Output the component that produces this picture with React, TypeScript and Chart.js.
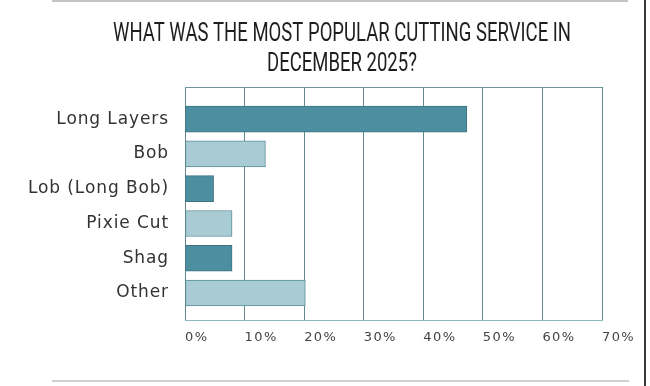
import React, { useEffect, useRef } from "react";
import { Chart, registerables } from "chart.js";

Chart.register(...registerables);

const titleLines = ["WHAT WAS THE MOST POPULAR CUTTING SERVICE IN", "DECEMBER 2025?"];
const categories = ["Long Layers", "Bob", "Lob (Long Bob)", "Pixie Cut", "Shag", "Other"];
const values = [47.3, 13.5, 4.8, 7.9, 7.9, 20.2];
const xTicks = [0, 10, 20, 30, 40, 50, 60, 70];

const DARK = "#4d8fa0";
const LIGHT = "#a9cbd3";
const DARK_BORDER = "#3b7383";
const LIGHT_BORDER = "#5a8e99";

const decorPlugin = {
  id: "decor",
  beforeDraw(chart: any) {
    (chart.ctx as any).letterSpacing = "0.9px";
  },
  beforeDatasetsDraw(chart: any) {
    const { ctx, chartArea } = chart;
    ctx.save();
    ctx.strokeStyle = "#6f9499";
    ctx.lineWidth = 1;
    ctx.beginPath();
    ctx.moveTo(chartArea.left, chartArea.top + 0.5);
    ctx.lineTo(chartArea.right, chartArea.top + 0.5);
    ctx.stroke();
    ctx.restore();
  },
  afterDatasetsDraw(chart: any) {
    (chart.ctx as any).letterSpacing = "1.4px";
  },
  afterDraw(chart: any) {
    const ctx = chart.ctx as any;
    ctx.letterSpacing = "0px";
    ctx.save();
    // page rules
    ctx.strokeStyle = "#c4c4c4";
    ctx.lineWidth = 2;
    ctx.beginPath();
    ctx.moveTo(52, 1);
    ctx.lineTo(628, 1);
    ctx.stroke();
    ctx.strokeStyle = "#d0d0d0";
    ctx.beginPath();
    ctx.moveTo(52, 381);
    ctx.lineTo(629, 381);
    ctx.stroke();
    ctx.strokeStyle = "#3a3a3a";
    ctx.beginPath();
    ctx.moveTo(645, 0);
    ctx.lineTo(645, 386);
    ctx.stroke();
    // title (horizontally condensed)
    ctx.fillStyle = "#1e1e1e";
    ctx.font = '25px Roboto, "Liberation Sans", sans-serif';
    ctx.textAlign = "center";
    ctx.textBaseline = "alphabetic";
    const w0 = ctx.measureText(titleLines[0]).width;
    const sx = 458 / w0;
    ctx.translate(342, 0);
    ctx.scale(sx, 1);
    ctx.fillText(titleLines[0], 0, 41);
    ctx.fillText(titleLines[1], 0, 70.5);
    ctx.restore();
  },
};

export default function App() {
  const ref = useRef<HTMLCanvasElement>(null);
  useEffect(() => {
    document.body.style.margin = "0";
    const chart = new Chart(ref.current as HTMLCanvasElement, {
      type: "bar",
      data: {
        datasets: [
          {
            data: values.map((v, i) => ({ x: v, y: i })),
            backgroundColor: values.map((_, i) => (i % 2 === 0 ? DARK : LIGHT)),
            borderColor: values.map((_, i) => (i % 2 === 0 ? DARK_BORDER : LIGHT_BORDER)),
            borderWidth: 1,
            borderSkipped: false,
            barThickness: 26,
          },
        ],
      },
      options: {
        indexAxis: "y",
        responsive: false,
        animation: false,
        layout: { padding: { top: 87, left: 0, right: 48, bottom: 0 } },
        plugins: { legend: { display: false }, title: { display: false }, tooltip: { enabled: false } },
        scales: {
          x: {
            type: "linear",
            min: 0,
            max: 70,
            afterFit: (s: any) => {
              s.height = 66;
            },
            afterBuildTicks: (s: any) => {
              s.ticks = xTicks.map((v) => ({ value: v }));
            },
            grid: { color: "#62878c", lineWidth: 1, drawTicks: false },
            border: { display: true, color: "#8fb8be", width: 1 },
            ticks: {
              z: 1,
              align: "start",
              padding: 10,
              color: "#444444",
              font: { family: '"DejaVu Sans", sans-serif', size: 13 },
              callback: (v: any) => v + "%",
            },
          },
          y: {
            type: "linear",
            reverse: true,
            offset: false,
            min: -0.923,
            max: 5.775,
            afterFit: (s: any) => {
              s.width = 185;
            },
            grid: { display: false, drawTicks: false, offset: false },
            border: { display: false },
            ticks: {
              z: 0,
              stepSize: 1,
              autoSkip: false,
              includeBounds: false,
              padding: 16,
              color: "#333333",
              font: { family: '"DejaVu Sans", sans-serif', size: 17 },
              callback: (v: any) => (Number.isInteger(v) && categories[v] !== undefined ? categories[v] : ""),
            },
          },
        },
      },
      plugins: [decorPlugin],
    } as any);
    return () => chart.destroy();
  }, []);
  return <canvas ref={ref} width={650} height={386} style={{ display: "block" }} />;
}
